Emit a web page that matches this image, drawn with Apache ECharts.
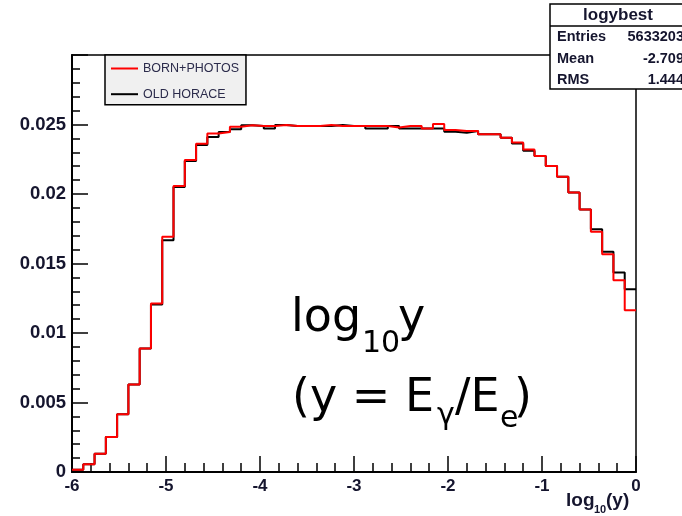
<!DOCTYPE html>
<html><head><meta charset="utf-8">
<script src="https://cdn.jsdelivr.net/npm/echarts@6/dist/echarts.min.js"></script>
<style>html,body{margin:0;padding:0;background:#fff}#c{width:682px;height:516px}</style>
</head><body><div id="c"></div>
<script>
// Histogram contents, 50 bins from -6 to 0
const bornPhotos = [
  0.00017, 0.00055, 0.00132, 0.00252, 0.00415, 0.00629, 0.00888, 0.01212, 0.01692, 0.02057,
  0.02244, 0.02361, 0.02436, 0.02446, 0.02484, 0.02495, 0.02489, 0.02489, 0.02496, 0.02489,
  0.02489, 0.02489, 0.02496, 0.02489, 0.02489, 0.02489, 0.02489, 0.02489, 0.02479, 0.02489,
  0.02489, 0.02472, 0.02503, 0.02460, 0.02453, 0.02453, 0.02429, 0.02429, 0.02405, 0.02371,
  0.02321, 0.02273, 0.02201, 0.02124, 0.02011, 0.01889, 0.01728, 0.01567, 0.01380, 0.01164
];
const oldHorace = [
  0.00017, 0.00055, 0.00132, 0.00252, 0.00415, 0.00629, 0.00888, 0.01205, 0.01668, 0.02050,
  0.02237, 0.02352, 0.02410, 0.02446, 0.02465, 0.02495, 0.02489, 0.02472, 0.02496, 0.02489,
  0.02489, 0.02489, 0.02489, 0.02496, 0.02489, 0.02489, 0.02472, 0.02472, 0.02489, 0.02472,
  0.02472, 0.02472, 0.02472, 0.02448, 0.02440, 0.02453, 0.02429, 0.02429, 0.02405, 0.02364,
  0.02311, 0.02273, 0.02201, 0.02124, 0.02011, 0.01889, 0.01747, 0.01584, 0.01435, 0.01315
];
const seriesNames = ['BORN+PHOTOS', 'OLD HORACE'];
const xTickLabels = ['-6', '-5', '-4', '-3', '-2', '-1', '0'];
const yTickLabels = ['0', '0.005', '0.01', '0.015', '0.02', '0.025'];
const histName = 'logybest';
const statsRows = [['Entries', '5633203'], ['Mean', '-2.709'], ['RMS', '1.444']];
const xMin = -6, xMax = 0, yMin = 0, yMax = 0.03, yStep = 0.005;

function toSteps(vals) {
  const w = (xMax - xMin) / vals.length;
  const pts = vals.map((v, i) => [xMin + i * w, v]);
  pts.push([xMax, vals[vals.length - 1]]);
  return pts;
}

const chart = echarts.init(document.getElementById('c'), null, {renderer: 'canvas'});
const txtColor = '#15152e';
const labelFont = {fontFamily: 'Liberation Sans', fontWeight: 'bold', color: txtColor};
const bigFont = 'DejaVu Sans';

const statsGraphics = [
  {type: 'rect', shape: {x: 550, y: 4, width: 145, height: 85}, style: {fill: '#fff', stroke: '#000', lineWidth: 1.5}, z: 100},
  {type: 'line', shape: {x1: 550, y1: 26, x2: 695, y2: 26}, style: {stroke: '#000', lineWidth: 1.5}, z: 101},
  {type: 'text', x: 618, y: 15, z: 101, style: {text: histName, fontFamily: 'Liberation Sans', fontWeight: 'bold', fontSize: 17, fill: txtColor, align: 'center', verticalAlign: 'middle'}}
];
statsRows.forEach((r, i) => {
  const y = 37 + i * 21.5;
  statsGraphics.push({type: 'text', x: 557, y: y, z: 101, style: {text: r[0], fontFamily: 'Liberation Sans', fontWeight: 'bold', fontSize: 14.5, fill: txtColor, align: 'left', verticalAlign: 'middle'}});
  statsGraphics.push({type: 'text', x: 684, y: y, z: 101, style: {text: r[1], fontFamily: 'Liberation Sans', fontWeight: 'bold', fontSize: 14.5, fill: txtColor, align: 'right', verticalAlign: 'middle'}});
});

// text pieces: x = left, b = baseline, s = font size
const annot = [
  {t: 'log', x: 291, b: 333, s: 46},
  {t: '10', x: 362, b: 353, s: 30},
  {t: 'y', x: 398, b: 333, s: 46},
  {t: '(y = E', x: 292, b: 413, s: 46},
  {t: 'γ', x: 437, b: 425, s: 30},
  {t: '/E', x: 455, b: 413, s: 46},
  {t: 'e', x: 500, b: 428, s: 30},
  {t: ')', x: 514, b: 413, s: 46}
];
const annotGraphics = annot.map(a => ({type: 'text', x: a.x, y: a.b - 0.3 * a.s, z: 50,
  style: {text: a.t, fontFamily: bigFont, fontSize: a.s, fill: '#000', align: 'left', verticalAlign: 'middle'}}));

const axisName = [
  {t: 'log', x: 566, b: 506, s: 19},
  {t: '10', x: 594, b: 513, s: 11},
  {t: '(y)', x: 606, b: 506, s: 19}
];
const axisNameGraphics = axisName.map(a => ({type: 'text', x: a.x, y: a.b - 0.3 * a.s, z: 50,
  style: {text: a.t, fontFamily: 'Liberation Sans', fontWeight: 'bold', fontSize: a.s, fill: txtColor, align: 'left', verticalAlign: 'middle'}}));

chart.setOption({
  animation: false,
  backgroundColor: '#fff',
  grid: {left: 72, right: 46, top: 55, bottom: 44, show: true, borderColor: '#000', borderWidth: 1.5, backgroundColor: 'transparent'},
  legend: {
    data: seriesNames, orient: 'vertical', left: 105, top: 55,
    backgroundColor: '#f0f0f0', borderColor: '#000', borderWidth: 1.5, borderRadius: 0,
    padding: [7, 7, 4, 5], itemGap: 12.7, itemWidth: 27, itemHeight: 14,
    itemStyle: {opacity: 0},
    textStyle: {fontFamily: 'Liberation Sans', fontSize: 12.5, color: '#2b2b4b'},
    selectedMode: false
  },
  xAxis: {
    type: 'value', min: xMin, max: xMax, interval: 1,
    axisLine: {onZero: false, lineStyle: {color: '#000', width: 2}},
    axisTick: {inside: true, length: 16, lineStyle: {color: '#000', width: 1.5}},
    minorTick: {show: true, splitNumber: 5, length: 9, lineStyle: {color: '#000', width: 1.5}},
    splitLine: {show: false},
    axisLabel: Object.assign({fontSize: 17, margin: 6, formatter: v => xTickLabels[Math.round(v - xMin)] ?? ''}, labelFont)
  },
  yAxis: {
    type: 'value', min: yMin, max: yMax, interval: yStep,
    axisLine: {show: true, onZero: false, lineStyle: {color: '#000', width: 2}},
    axisTick: {show: true, inside: true, length: 16, lineStyle: {color: '#000', width: 1.5}},
    minorTick: {show: true, splitNumber: 5, length: 8, lineStyle: {color: '#000', width: 1.5}},
    splitLine: {show: false},
    axisLabel: Object.assign({fontSize: 18.5, margin: 6, formatter: v => yTickLabels[Math.round(v / yStep)] ?? ''}, labelFont)
  },
  series: [
    {name: seriesNames[1], type: 'line', step: 'end', symbol: 'none', data: toSteps(oldHorace), lineStyle: {color: '#000', width: 2}, itemStyle: {color: '#000'}, z: 2},
    {name: seriesNames[0], type: 'line', step: 'end', symbol: 'none', data: toSteps(bornPhotos), lineStyle: {color: '#ff0000', width: 2}, itemStyle: {color: '#ff0000'}, z: 3}
  ],
  graphic: [...statsGraphics, ...annotGraphics, ...axisNameGraphics]
});
</script></body></html>
